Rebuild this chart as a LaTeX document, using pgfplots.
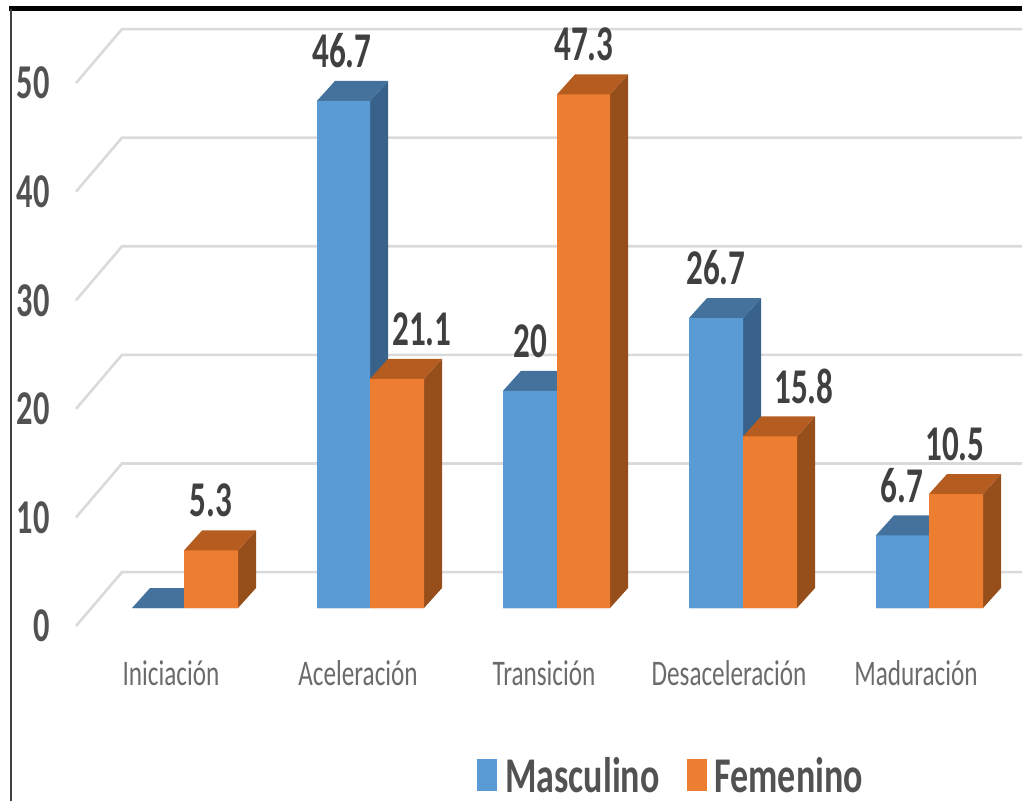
\documentclass[border=0pt]{standalone}
\usepackage{fontspec}
\setmainfont{Carlito}
\usepackage{pgfplots}
\pgfplotsset{compat=1.18}
\definecolor{masc}{HTML}{5B9BD5}
\definecolor{mascs}{HTML}{386289}
\definecolor{masct}{HTML}{44729D}
\definecolor{fem}{HTML}{ED7D31}
\definecolor{fems}{HTML}{964E1B}
\definecolor{femt}{HTML}{B55C20}
\definecolor{gridc}{HTML}{DADADA}
\newcommand{\val}[1]{\fontsize{36}{36}\selectfont\bfseries\scalebox{.92}[1.39]{#1}}
\newcommand{\ylab}[1]{\fontsize{36}{36}\selectfont\bfseries\scalebox{.9}[1.35]{#1}}
\newcommand{\cat}[1]{\fontsize{30}{30}\selectfont\scalebox{.84}[1.2]{#1}}
\newcommand{\leg}[1]{\fontsize{40}{40}\selectfont\bfseries\scalebox{.9}[1.25]{#1}}
% x0, x1, value, front, side, top
\newcommand{\tdbar}[6]{%
  \addplot[fill=#5,draw=none,forget plot] coordinates {(#2,0) (#2+18,1.84) (#2+18,{#3+1.84}) (#2,#3)} \closedcycle;
  \addplot[fill=#6,draw=none,forget plot] coordinates {(#1,#3) (#1+18,{#3+1.84}) (#2+18,{#3+1.84}) (#2,#3)} \closedcycle;
  \addplot[fill=#4,draw=none,forget plot] coordinates {(#1,0) (#1,#3) (#2,#3) (#2,0)} \closedcycle;
}
\newcommand{\gridl}[1]{%
  \addplot[gridc,line width=2.6pt,forget plot] coordinates {(76,{#1-1.66}) (122,{#1+3.31}) (1022,{#1+3.31})};
}
\begin{document}
\begin{tikzpicture}
\begin{axis}[
  name=main,
  scale only axis, width=1022pt, height=801pt,
  xmin=0, xmax=1022, ymin=-17.77, ymax=55.99,
  axis line style={draw=none}, major tick length=0pt,
  tick style={draw=none},
  xtick={171,358,544,729,916},
  xticklabels={\cat{Iniciación},\cat{Aceleración},\cat{Transición},\cat{Desaceleración},\cat{Maduración}},
  xticklabel style={anchor=center,yshift=128pt,text=black!58},
  ytick={0,10,20,30,40,50},
  yticklabels={\ylab{0},\ylab{10},\ylab{20},\ylab{30},\ylab{40},\ylab{50}},
  yticklabel style={anchor=east,xshift=53pt,yshift=-18pt,text=black!68},
  legend columns=2,
  legend style={at={(axis cs:477,-15.4)},anchor=west,draw=none,fill=none,
    inner sep=0pt,
    /tikz/every odd column/.append style={column sep=6pt},
    /tikz/every even column/.append style={column sep=25pt},
    nodes={inner sep=2pt,text=black!68}},
  legend image code/.code={\fill[#1] (0pt,-16pt) rectangle (20pt,16pt);},
  clip=false,
]
\gridl{0}\gridl{10}\gridl{20}\gridl{30}\gridl{40}\gridl{50}
\tdbar{132}{184}{0}{masc}{mascs}{masct}
\tdbar{184}{238}{5.3}{fem}{fems}{femt}
\tdbar{317}{370}{46.7}{masc}{mascs}{masct}
\tdbar{370}{424}{21.1}{fem}{fems}{femt}
\tdbar{503}{557}{20}{masc}{mascs}{masct}
\tdbar{557}{610}{47.3}{fem}{fems}{femt}
\tdbar{689}{743}{26.7}{masc}{mascs}{masct}
\tdbar{743}{797}{15.8}{fem}{fems}{femt}
\tdbar{876}{929}{6.7}{masc}{mascs}{masct}
\tdbar{929}{983}{10.5}{fem}{fems}{femt}
\addlegendimage{fill=masc,draw=none}
\addlegendentry{\leg{Masculino}}
\addlegendimage{fill=fem,draw=none}
\addlegendentry{\leg{Femenino}}
\foreach \x/\v/\t in {211/5.3/5.3,342/46.7/46.7,422/21.1/21.1,530/20/20,584/47.3/47.3,716/26.7/26.7,804/15.8/15.8,902/6.7/6.7,955/10.5/10.5}{
  \edef\tmp{\noexpand\node[text=black!75,yshift=50pt] at (axis cs:\x,\v) {\noexpand\val{\t}};}
  \tmp
}
\addplot[black,line width=4.5pt,forget plot] coordinates {(9,55.2) (1022,55.2)};
\addplot[black!75,line width=2pt,forget plot] coordinates {(10.5,55.2) (10.5,-17.77)};
\end{axis}
\pgfresetboundingbox
\path[use as bounding box] (main.south west) rectangle (main.north east);
\end{tikzpicture}
\end{document}
